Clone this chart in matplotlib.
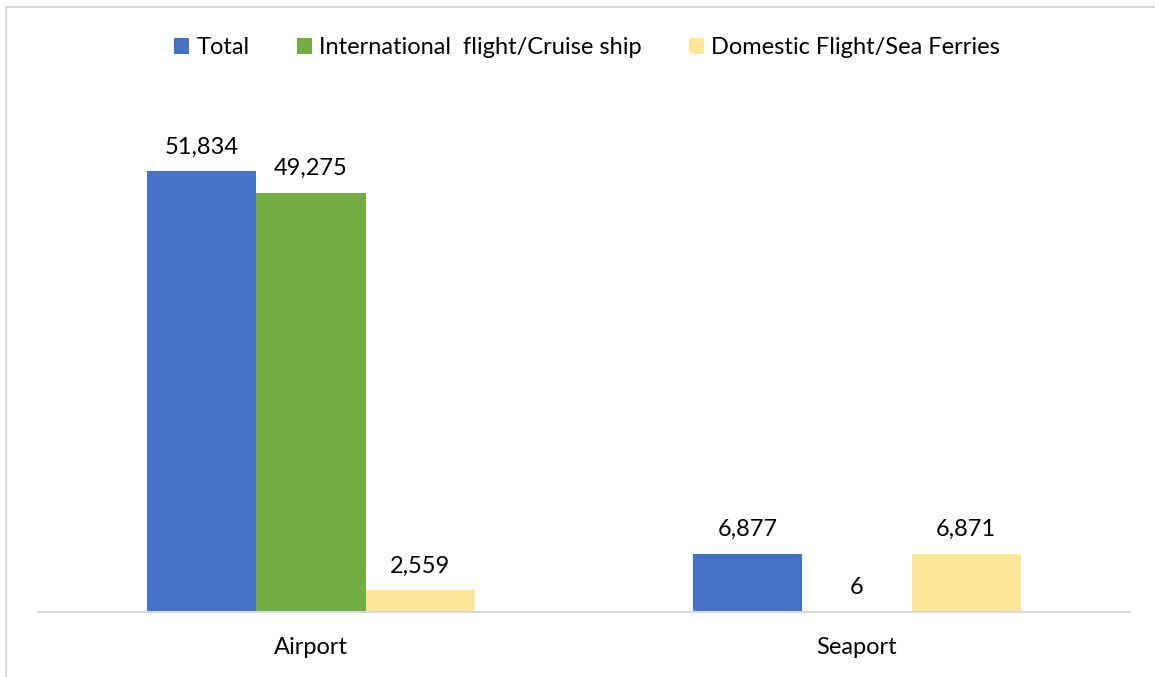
import numpy as np
import matplotlib.pyplot as plt
from matplotlib.lines import Line2D

# data
categories = ['Airport', 'Seaport']
series_names = ['Total', 'International  flight/Cruise ship', 'Domestic Flight/Sea Ferries']
total = [51834, 6877]
international = [49275, 6]
domestic = [2559, 6871]

colors = ['#4472C4', '#70AD47', '#FFE699']

plt.rcParams['font.family'] = ['Lato', 'DejaVu Sans']

fig = plt.figure(figsize=(11.55, 6.77), dpi=100)
ax = fig.add_axes([38 / 1155, 1 - 612 / 677, (1130 - 38) / 1155, (612 - 102) / 677])

x = np.arange(len(categories))
width = 0.2
all_series = [total, international, domestic]
for i, vals in enumerate(all_series):
    bars = ax.bar(x + (i - 1) * width, vals, width, color=colors[i], label=series_names[i])
    for b, v in zip(bars, vals):
        ax.annotate(f'{v:,}', (b.get_x() + b.get_width() / 2, b.get_height()),
                    xytext=(0, 10), textcoords='offset points',
                    ha='center', va='bottom', fontsize=17, color='#000000')

ax.set_xlim(-0.5, 1.5)
ax.set_ylim(0, 60000)
ax.set_xticks(x)
ax.set_xticklabels(categories, fontsize=17)
ax.tick_params(axis='x', length=0, pad=18)
ax.set_yticks([])
for s in ['top', 'right', 'left']:
    ax.spines[s].set_visible(False)
ax.spines['bottom'].set_color('#D9D9D9')
ax.spines['bottom'].set_linewidth(1.5)

fig.legend(loc='center', bbox_to_anchor=(587 / 1155, 1 - 48 / 677), ncol=3, frameon=False,
           fontsize=17, handlelength=0.65, handleheight=0.65, handletextpad=0.3,
           columnspacing=2.0)

# outer frame (top and left visible)
fig.add_artist(Line2D([6 / 1155, 6 / 1155], [0, 1 - 7 / 677], color='#D9D9D9', lw=1.5))
fig.add_artist(Line2D([6 / 1155, 1], [1 - 7 / 677, 1 - 7 / 677], color='#D9D9D9', lw=1.5))

fig.savefig('out.png', dpi=100)
